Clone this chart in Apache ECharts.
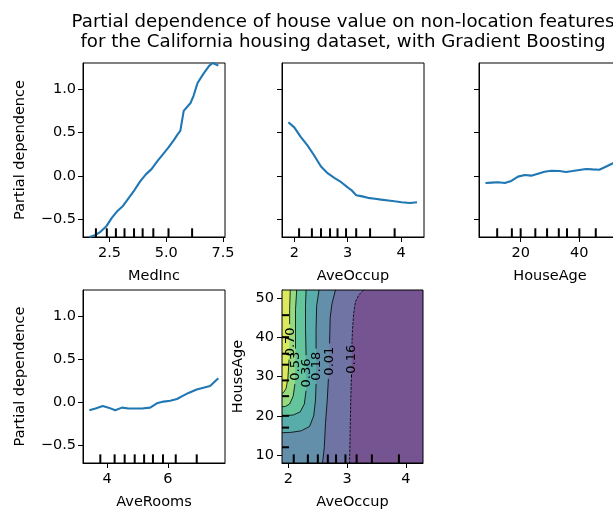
<!DOCTYPE html>
<html><head><meta charset="utf-8">
<script src="https://cdn.jsdelivr.net/npm/echarts@6/dist/echarts.min.js"></script>
<style>html,body{margin:0;padding:0;background:#fff}#c{width:613px;height:510px}</style>
</head><body><div id="c"></div>
<script>
const FONT = 'DejaVu Sans';
const titleLines = ['Partial dependence of house value on non-location features',
                    'for the California housing dataset, with Gradient Boosting'];

// ---- one-way partial dependence curves ----
const medIncX = [1.62, 1.85, 2.10, 2.35, 2.60, 2.85, 3.10, 3.35, 3.60, 3.85, 4.10, 4.35, 4.60, 4.85, 5.10, 5.35, 5.50, 5.62, 5.77, 6.07, 6.20, 6.38, 6.65, 6.90, 7.05, 7.30];
const medIncY = [-0.70, -0.68, -0.64, -0.58, -0.48, -0.40, -0.34, -0.25, -0.16, -0.06, 0.02, 0.08, 0.17, 0.25, 0.33, 0.42, 0.48, 0.52, 0.75, 0.84, 0.92, 1.07, 1.18, 1.27, 1.30, 1.27];

const aveOccupX = [1.89, 2.00, 2.12, 2.25, 2.37, 2.50, 2.63, 2.75, 2.88, 3.00, 3.07, 3.16, 3.25, 3.38, 3.51, 3.63, 3.76, 3.88, 4.01, 4.17, 4.30];
const aveOccupY = [0.62, 0.56, 0.45, 0.35, 0.24, 0.11, 0.03, -0.02, -0.07, -0.13, -0.16, -0.22, -0.23, -0.25, -0.26, -0.27, -0.28, -0.29, -0.30, -0.31, -0.30];

const houseAgeX = [8, 10.1, 12.3, 14.6, 16.8, 19.1, 21.4, 23.6, 25.9, 28.1, 30.4, 33.2, 35.5, 37.7, 40.0, 42.3, 44.5, 46.8, 49.0, 51.3, 52];
const houseAgeY = [-0.08, -0.075, -0.07, -0.08, -0.056, -0.006, 0.013, 0.005, 0.028, 0.05, 0.062, 0.058, 0.047, 0.058, 0.07, 0.081, 0.077, 0.073, 0.107, 0.145, 0.16];

const aveRoomsX = [3.42, 3.62, 3.86, 4.05, 4.27, 4.49, 4.71, 4.93, 5.15, 5.42, 5.64, 5.86, 6.08, 6.30, 6.46, 6.68, 6.95, 7.17, 7.39, 7.66];
const aveRoomsY = [-0.09, -0.07, -0.04, -0.06, -0.09, -0.06, -0.07, -0.07, -0.07, -0.06, -0.01, 0.01, 0.02, 0.04, 0.07, 0.11, 0.15, 0.17, 0.19, 0.28];

// ---- deciles (rug marks) ----
const medIncDeciles   = [1.90, 2.38, 2.78, 3.16, 3.58, 3.96, 4.43, 5.10, 6.14];
const aveOccupDeciles = [2.09, 2.33, 2.50, 2.67, 2.81, 2.97, 3.16, 3.42, 3.88];
const houseAgeDeciles = [12, 17, 20, 25, 29, 33, 35.8, 40, 45.6];
const aveRoomsDeciles = [3.78, 4.25, 4.58, 4.91, 5.22, 5.51, 5.84, 6.26, 6.95];

// ---- axis ranges and ticks ----
const pdRange       = [-0.70, 1.30];
const medIncRange   = [1.33, 7.59];
const aveOccupRange = [1.77, 4.43];
const houseAgeRange = [5.8, 54.2];
const aveRoomsRange = [3.21, 7.88];
const contourXRange = [1.89, 4.29];
const contourYRange = [8, 52];

const pdTicks       = [-0.5, 0.0, 0.5, 1.0];
const medIncTicks   = [2.5, 5.0, 7.5];
const aveOccupTicks = [2, 3, 4];
const houseAgeTicks = [20, 40];
const aveRoomsTicks = [4, 6];
const contourYTicks = [10, 20, 30, 40, 50];

// ---- two-way partial dependence (AveOccup x HouseAge) contour lines ----
const contourLevels = [-0.16, 0.01, 0.18, 0.36, 0.53, 0.70];
const contourLines = [
  [[3.28,52],[3.20,50.8],[3.14,49],[3.11,46],[3.09,42],[3.08,38.3],[3.07,29.3],[3.06,24],[3.05,16],[3.04,8]],
  [[2.80,52],[2.74,48.5],[2.71,45],[2.70,38.4],[2.68,29.4],[2.66,24],[2.63,18],[2.61,12],[2.58,8]],
  [[2.52,52],[2.48,48],[2.47,42],[2.47,37.1],[2.47,28.1],[2.46,24],[2.43,20],[2.36,17.3],[2.22,16.2],[2.05,15.8],[1.89,15.7]],
  [[2.30,52],[2.29,48],[2.29,42],[2.30,35.4],[2.30,26.4],[2.27,23],[2.20,21],[2.08,20.2],[1.89,20.0]],
  [[2.14,52],[2.12,47],[2.12,41],[2.12,37.1],[2.11,28.1],[2.08,25],[2.02,23],[1.95,22.4],[1.89,22.3]],
  [[2.03,52],[2.02,47],[2.02,43.3],[2.01,34.3],[1.99,29.5],[1.96,27],[1.92,26],[1.89,25.7]]
];
const contourGapAfter = [5, 3, 3, 3, 3, 2];
const contourLabelPos = [[3.07,33.8],[2.70,33.9],[2.48,32.6],[2.31,30.9],[2.12,32.6],[2.03,38.8]];
const bandColors = ['#765391', '#7074a5', '#648faa', '#58aca9', '#64c59d', '#96db7f', '#dbe95f'];

// ---------------------------------------------------------------
const fmt1 = v => (v < 0 ? '\u2212' : '') + Math.abs(v).toFixed(1);
const fmt0 = v => String(v);
const txt = { color: '#000', fontSize: 14.5, fontFamily: FONT };

function vAxis(gridIndex, range, ticks, fmt, extra, margin) {
  return Object.assign({
    type: 'value', gridIndex, min: range[0], max: range[1],
    splitLine: { show: false },
    axisLine: { show: true, onZero: false, lineStyle: { color: '#000', width: 1 } },
    axisTick: { show: true, customValues: ticks, length: 5, lineStyle: { color: '#000', width: 1 } },
    axisLabel: Object.assign({ show: true, customValues: ticks, formatter: fmt, margin: margin || 9 }, txt),
    nameTextStyle: txt, nameLocation: 'middle'
  }, extra || {});
}

const grids = [
  { left: 83,  top: 63,  width: 142, height: 174 },
  { left: 282, top: 63,  width: 142, height: 174 },
  { left: 479, top: 63,  width: 142, height: 174 },
  { left: 83,  top: 290, width: 142, height: 173 },
  { left: 282, top: 290, width: 141, height: 173 }
].map(g => Object.assign({ show: true, borderColor: '#000', borderWidth: 1, backgroundColor: 'transparent',
                           containLabel: false, outerBoundsMode: 'none' }, g));

const xAxes = [
  vAxis(0, medIncRange, medIncTicks, fmt1, { name: 'MedInc', nameGap: 32 }),
  vAxis(1, aveOccupRange, aveOccupTicks, fmt0, { name: 'AveOccup', nameGap: 32 }),
  vAxis(2, houseAgeRange, houseAgeTicks, fmt0, { name: 'HouseAge', nameGap: 32 }),
  vAxis(3, aveRoomsRange, aveRoomsTicks, fmt0, { name: 'AveRooms', nameGap: 32 }),
  vAxis(4, contourXRange, aveOccupTicks, fmt0, { name: 'AveOccup', nameGap: 32 })
];
const yAxes = [
  vAxis(0, pdRange, pdTicks, fmt1, { name: 'Partial dependence', nameGap: 55 }, 7),
  vAxis(1, pdRange, pdTicks, fmt1, {}, 7),
  vAxis(2, pdRange, pdTicks, fmt1, {}, 7),
  vAxis(3, pdRange, pdTicks, fmt1, { name: 'Partial dependence', nameGap: 55 }, 7),
  vAxis(4, contourYRange, contourYTicks, fmt0, { name: 'HouseAge', nameGap: 36 }, 8)
];
yAxes[1].axisLabel.show = false;
yAxes[2].axisLabel.show = false;

function lineSeries(i, xs, ys) {
  return {
    type: 'line', xAxisIndex: i, yAxisIndex: i, showSymbol: false, symbol: 'none',
    data: xs.map((x, k) => [x, ys[k]]),
    lineStyle: { color: '#1f77b4', width: 2.1 }, clip: true, z: 2
  };
}

function rugX(i, values, yMin) {
  return {
    type: 'custom', xAxisIndex: i, yAxisIndex: i, clip: false, z: 5, silent: true,
    data: values.map(v => [v, yMin]),
    renderItem(params, api) {
      const p = api.coord([api.value(0), api.value(1)]);
      const len = params.coordSys.height * 0.05;
      return { type: 'line', shape: { x1: p[0], y1: p[1], x2: p[0], y2: p[1] - len },
               style: { stroke: '#000', lineWidth: 2 } };
    }
  };
}
function rugY(i, values, xMin) {
  return {
    type: 'custom', xAxisIndex: i, yAxisIndex: i, clip: false, z: 5, silent: true,
    data: values.map(v => [xMin, v]),
    renderItem(params, api) {
      const p = api.coord([api.value(0), api.value(1)]);
      const len = params.coordSys.width * 0.05;
      return { type: 'line', shape: { x1: p[0], y1: p[1], x2: p[0] + len, y2: p[1] },
               style: { stroke: '#000', lineWidth: 2 } };
    }
  };
}

const contourSeries = {
  type: 'custom', xAxisIndex: 4, yAxisIndex: 4, clip: true, z: 1, silent: true,
  data: [[contourXRange[0], contourYRange[0]]],
  renderItem(params, api) {
    const cs = params.coordSys;
    const [xMin, xMax] = contourXRange, [yMin, yMax] = contourYRange;
    const children = [];
    children.push({ type: 'rect', shape: { x: cs.x, y: cs.y, width: cs.width, height: cs.height },
                    style: { fill: bandColors[bandColors.length - 1] } });
    for (let k = contourLevels.length - 1; k >= 0; k--) {
      const line = contourLines[k];
      const last = line[line.length - 1];
      const closure = [];
      if (last[1] > yMin) closure.push([xMin, yMin]);
      closure.push([xMax, yMin], [xMax, yMax]);
      const pts = line.concat(closure).map(p => api.coord(p));
      children.push({ type: 'polygon', shape: { points: pts }, style: { fill: bandColors[k] } });
    }
    contourLevels.forEach((lev, k) => {
      const pts = contourLines[k].map(p => api.coord(p));
      const g = contourGapAfter[k];
      const dash = lev < 0 ? [2.7, 1.2] : null;
      [pts.slice(0, g + 1), pts.slice(g + 1)].forEach(seg => {
        if (seg.length > 1) children.push({ type: 'polyline', shape: { points: seg },
          style: { stroke: '#000', lineWidth: 0.8, fill: null, lineDash: dash } });
      });
      const lp = api.coord(contourLabelPos[k]);
      children.push({ type: 'text', x: lp[0], y: lp[1], rotation: Math.PI / 2,
        style: { text: lev.toFixed(2), fill: '#000', fontSize: 13, fontFamily: FONT,
                 align: 'center', verticalAlign: 'middle' } });
    });
    children.push({ type: 'rect', shape: { x: cs.x, y: cs.y, width: cs.width, height: cs.height },
                    style: { fill: null, stroke: '#000', lineWidth: 1 } });
    return { type: 'group', children };
  }
};

const chart = echarts.init(document.getElementById('c'), null, { renderer: 'canvas' });
chart.setOption({
  animation: false,
  backgroundColor: '#fff',
  title: {
    text: titleLines.join('\n'), left: 338, top: 7, textAlign: 'center',
    textStyle: { fontSize: 18.2, fontWeight: 'normal', color: '#000', fontFamily: FONT, lineHeight: 20 }
  },
  grid: grids,
  xAxis: xAxes,
  yAxis: yAxes,
  series: [
    lineSeries(0, medIncX, medIncY),
    lineSeries(1, aveOccupX, aveOccupY),
    lineSeries(2, houseAgeX, houseAgeY),
    lineSeries(3, aveRoomsX, aveRoomsY),
    contourSeries,
    rugX(0, medIncDeciles, pdRange[0]),
    rugX(1, aveOccupDeciles, pdRange[0]),
    rugX(2, houseAgeDeciles, pdRange[0]),
    rugX(3, aveRoomsDeciles, pdRange[0]),
    rugX(4, aveOccupDeciles, contourYRange[0]),
    rugY(4, houseAgeDeciles, contourXRange[0])
  ]
});
</script></body></html>
